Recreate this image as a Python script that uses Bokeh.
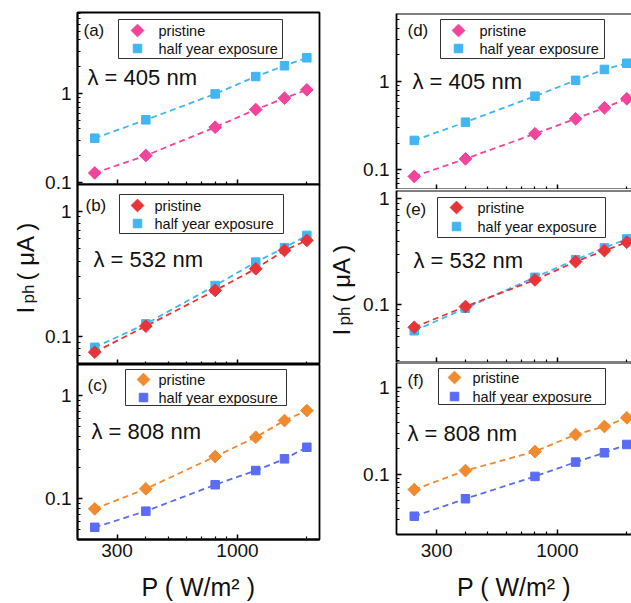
import math
from bokeh.plotting import figure
from bokeh.layouts import row, column
from bokeh.models import Range1d, FixedTicker, CustomJSTickFormatter, Span
from bokeh.embed import file_html
from bokeh.resources import INLINE
from bokeh.core.properties import value

FONT = "Liberation Sans"

# ---------------- data ----------------
P = [240, 400, 800, 1200, 1600, 2000]

a_pristine = [0.128, 0.201, 0.418, 0.661, 0.885, 1.10]
a_half = [0.315, 0.506, 0.99, 1.55, 2.05, 2.52]
b_pristine = [0.075, 0.121, 0.233, 0.347, 0.486, 0.584]
b_half = [0.082, 0.126, 0.255, 0.392, 0.511, 0.640]
c_pristine = [0.080, 0.125, 0.257, 0.395, 0.573, 0.716]
c_half = [0.053, 0.076, 0.137, 0.188, 0.244, 0.316]
d_pristine = [0.084, 0.133, 0.256, 0.378, 0.504, 0.637]
d_half = [0.215, 0.346, 0.682, 1.03, 1.37, 1.61]
e_pristine = [0.0615, 0.0964, 0.172, 0.256, 0.325, 0.390]
e_half = [0.057, 0.093, 0.182, 0.267, 0.345, 0.419]
f_pristine = [0.067, 0.111, 0.184, 0.289, 0.358, 0.451]
f_half = [0.033, 0.0525, 0.095, 0.139, 0.178, 0.222]

legend_labels = ["pristine", "half year exposure"]
panel_tags = ["(a)", "(b)", "(c)", "(d)", "(e)", "(f)"]
wavelength_labels = ["λ = 405 nm", "λ = 532 nm", "λ = 808 nm"]
x_title = "P ( W/m² )"
y_title_parts = ["I", "ph", "( μA )"]

x_major = [300, 1000]
x_minor = [400, 500, 600, 700, 800, 900, 2000]
y_major = [0.1, 1]
y_minor = [0.02, 0.03, 0.04, 0.05, 0.06, 0.07, 0.08, 0.09,
           0.2, 0.3, 0.4, 0.5, 0.6, 0.7, 0.8, 0.9,
           2, 3, 4, 5, 6, 7, 8, 9]

PINK = "#f2449b"
LBLUE = "#41b6f2"
RED = "#e83339"
ORANGE = "#f08a2f"
BLUE = "#5a6cf2"

# ---------------- layout spec (page pixels) ----------------
# canvas = (x0, y0, x1, y1) of the figure, frame = plotting area
panels = [
    dict(tag=0, wl=0, pri=a_pristine, half=a_half, cp=PINK, ch=LBLUE,
         canvas=(40, 0, 322, 196), frame=(77, 12, 319, 184), overlap=0,
         xr=(202, 2270), yr=(0.095, 8.13), left=True, bottom=False,
         box=(118, 19, 282, 58), mx=137, tx=158, rows=(30, 48),
         tagpos=(83, 30), wlpos=(87, 77)),
    dict(tag=1, wl=1, pri=b_pristine, half=b_half, cp=RED, ch=LBLUE,
         canvas=(40, 184, 322, 364), frame=(77, 184, 319, 364), overlap=12,
         xr=(202, 2270), yr=(0.0598, 1.63), left=True, bottom=False,
         box=(119, 194, 283, 233), mx=137, tx=154, rows=(205, 223),
         tagpos=(85, 205), wlpos=(93, 259)),
    dict(tag=2, wl=2, pri=c_pristine, half=c_half, cp=ORANGE, ch=BLUE,
         canvas=(40, 364, 322, 603), frame=(77, 364, 319, 539), overlap=0,
         xr=(202, 2270), yr=(0.0404, 2.0), left=True, bottom=True,
         box=(125, 369, 286, 405), mx=143, tx=158, rows=(379, 397),
         tagpos=(87, 385), wlpos=(91, 431), lstand=4, tstand=13),
    dict(tag=3, wl=0, pri=d_pristine, half=d_half, cp=PINK, ch=LBLUE,
         canvas=(358, 0, 631, 189), frame=(396, 13, 631, 189), overlap=0,
         xr=(201, 2096), yr=(0.0598, 5.89), left=False, bottom=False,
         box=(440, 19, 604, 58), mx=458, tx=479, rows=(30, 48),
         tagpos=(407, 30), wlpos=(412, 81)),
    dict(tag=4, wl=1, pri=e_pristine, half=e_half, cp=RED, ch=LBLUE,
         canvas=(358, 189, 631, 362), frame=(396, 190, 631, 362), overlap=0,
         xr=(201, 2096), yr=(0.0286, 1.2), left=False, bottom=False,
         box=(437, 197, 605, 237), mx=456, tx=477, rows=(207, 226),
         tagpos=(405, 209), wlpos=(413, 260)),
    dict(tag=5, wl=2, pri=f_pristine, half=f_half, cp=ORANGE, ch=BLUE,
         canvas=(358, 362, 631, 603), frame=(396, 362, 631, 534), overlap=0,
         xr=(201, 2096), yr=(0.0203, 1.96), left=False, bottom=True,
         box=(438, 368, 605, 404), mx=454, tx=472, rows=(377, 396),
         tagpos=(407, 380), wlpos=(407, 433), lstand=9, tstand=13),
]


def fx(s, px):
    L, T, R, B = s["frame"]
    x0, x1 = s["xr"]
    a, b = math.log10(x0), math.log10(x1)
    return 10 ** (a + (px - L) / (R - L) * (b - a))


def fy(s, py):
    L, T, R, B = s["frame"]
    y0, y1 = s["yr"]
    a, b = math.log10(y0), math.log10(y1)
    return 10 ** (a + (B - py) / (B - T) * (b - a))


def style_axis(ax, show_labels):
    ax.axis_line_color = "black"
    ax.axis_line_width = 1.8
    ax.major_tick_line_color = "black"
    ax.minor_tick_line_color = "black"
    ax.major_tick_line_width = 1.5
    ax.minor_tick_line_width = 1.2
    ax.major_tick_in = 5
    ax.major_tick_out = 0
    ax.minor_tick_in = 3
    ax.minor_tick_out = 0
    ax.major_label_text_font = FONT
    ax.major_label_text_color = "#111111"
    if show_labels:
        ax.major_label_text_font_size = "19px"
        ax.formatter = CustomJSTickFormatter(code="return String(tick);")
    else:
        ax.major_label_text_font_size = "0px"
        ax.major_label_standoff = 0
        ax.formatter = CustomJSTickFormatter(code="return '';")


def make_panel(s):
    cx0, cy0, cx1, cy1 = s["canvas"]
    L, T, R, B = s["frame"]
    p = figure(width=cx1 - cx0, height=cy1 - cy0,
               x_axis_type="log", y_axis_type="log",
               x_range=Range1d(*s["xr"]), y_range=Range1d(*s["yr"]),
               output_backend="svg", toolbar_location=None,
               min_border_left=L - cx0, min_border_right=cx1 - R,
               min_border_top=T - cy0, min_border_bottom=cy1 - B)
    p.grid.visible = False
    p.background_fill_color = "white"
    if s["overlap"]:
        p.border_fill_color = None
        p.margin = (-s["overlap"], 0, 0, 0)
    else:
        p.border_fill_color = "white"
    if s["left"]:
        p.outline_line_color = "black"
        p.outline_line_width = 1.8
    else:
        p.outline_line_color = None
        p.add_layout(Span(location=s["yr"][1], dimension="width",
                          line_color="black", line_width=1.8))

    xa = p.xaxis[0]
    xa.ticker = FixedTicker(ticks=x_major, minor_ticks=x_minor)
    style_axis(xa, s["bottom"])
    if s["bottom"]:
        xa.major_label_standoff = s["lstand"]
        xa.axis_label = x_title
        xa.axis_label_text_font = FONT
        xa.axis_label_text_font_size = "25px"
        xa.axis_label_text_font_style = "normal"
        xa.axis_label_text_color = "#111111"
        xa.axis_label_standoff = s["tstand"]

    ya = p.yaxis[0]
    ya.ticker = FixedTicker(ticks=y_major, minor_ticks=y_minor)
    style_axis(ya, True)
    ya.major_label_standoff = 6 if s["left"] else 7

    # data
    p.line(P, s["half"], line_dash="6 4", line_width=1.8, color=s["ch"])
    p.line(P, s["pri"], line_dash="6 4", line_width=1.8, color=s["cp"])
    p.scatter(P, s["half"], marker="square", size=8.5, color=s["ch"])
    p.scatter(P, s["pri"], marker="square", size=9, angle=math.pi / 4,
              color=s["cp"])

    # legend (drawn as box, markers and texts)
    bx0, by0, bx1, by1 = s["box"]
    p.quad(left=[fx(s, bx0)], right=[fx(s, bx1)], top=[fy(s, by0)],
           bottom=[fy(s, by1)], fill_color="white", line_color="#333333",
           line_width=1)
    r1, r2 = s["rows"]
    p.scatter([fx(s, s["mx"])], [fy(s, r1)], marker="square", size=9,
              angle=math.pi / 4, color=s["cp"])
    p.scatter([fx(s, s["mx"])], [fy(s, r2)], marker="square", size=8.5,
              color=s["ch"])
    p.text([fx(s, s["tx"])] * 2, [fy(s, r1), fy(s, r2)], text=legend_labels,
           text_font=value(FONT), text_font_size="14.5px",
           text_baseline="middle", text_align="left", text_color="#111111")

    # panel tag and wavelength
    tx, ty = s["tagpos"]
    p.text([fx(s, tx)], [fy(s, ty)], text=[panel_tags[s["tag"]]],
           text_font=value(FONT), text_font_size="17px",
           text_baseline="middle", text_align="left", text_color="#111111")
    wx, wy = s["wlpos"]
    p.text([fx(s, wx)], [fy(s, wy)], text=[wavelength_labels[s["wl"]]],
           text_font=value(FONT), text_font_size="22px",
           text_baseline="middle", text_align="left", text_color="#111111")
    return p


def make_ylabel(x0, x1, base_x, start_y):
    # a blank strip holding the rotated y title; data units = page pixels
    width, height = x1 - x0, 603
    q = figure(width=width, height=height, x_range=Range1d(x0, x1),
               y_range=Range1d(height, 0), output_backend="svg",
               toolbar_location=None, x_axis_location=None,
               y_axis_location=None, min_border_left=0, min_border_right=0,
               min_border_top=0, min_border_bottom=0)
    q.grid.visible = False
    q.outline_line_color = None
    q.background_fill_color = "white"
    q.border_fill_color = "white"
    ang = math.pi / 2
    pieces = [(y_title_parts[0], base_x, start_y, "24px"),
              (y_title_parts[1], base_x + 3, start_y - 10, "17px"),
              (y_title_parts[2], base_x, start_y - 33, "24px")]
    for txt, px, py, fs in pieces:
        q.text([px], [py], text=[txt], angle=ang, text_font=value(FONT),
               text_font_size=fs, text_baseline="alphabetic",
               text_align="left", text_color="#111111")
    return q


figs = [make_panel(s) for s in panels]
lab_left = make_ylabel(0, 40, 25, 313)
lab_mid = make_ylabel(322, 358, 341, 335)

layout = row(lab_left, column(figs[0], figs[1], figs[2]),
             lab_mid, column(figs[3], figs[4], figs[5]))

open("out.html", "w").write(file_html(layout, INLINE))
